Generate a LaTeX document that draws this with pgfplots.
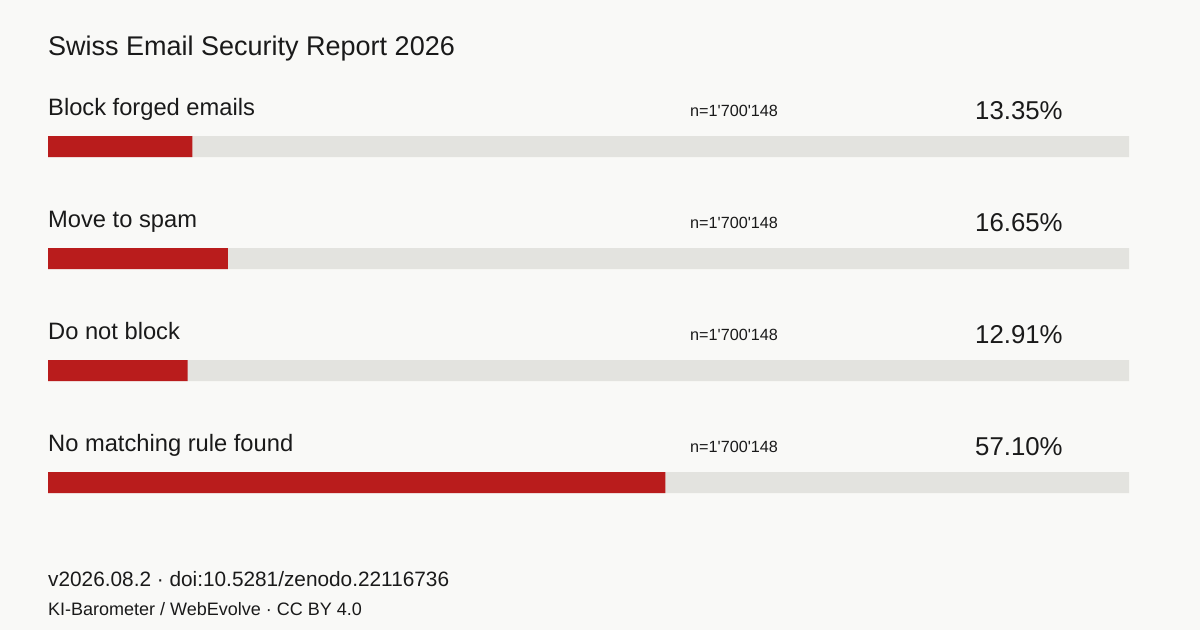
\documentclass[border=0pt]{standalone}
\usepackage{fontspec}
\setmainfont{Liberation Sans}
\usepackage{pgfplots}
\pgfplotsset{compat=1.18}
\definecolor{bg}{HTML}{F9F9F7}
\definecolor{track}{HTML}{E3E3DF}
\definecolor{barred}{HTML}{B91C1C}
\definecolor{ink}{HTML}{1A1A1A}
\newcommand{\lab}[1]{\node[anchor=base west, inner sep=0, text=ink, font=\fontsize{23.7}{28}\selectfont] at (axis cs:0,#1-0.281)}
\newcommand{\nn}[1]{\node[anchor=base west, inner sep=0, text=ink, font=\fontsize{16.2}{20}\selectfont] at (axis cs:59.39,#1-0.272) {n=1\textquotesingle700\textquotesingle148};}
\newcommand{\pc}[1]{\node[anchor=base west, inner sep=0, text=ink, font=\fontsize{25.8}{30}\selectfont] at (axis cs:85.75,#1-0.237)}
\begin{document}
\begin{tikzpicture}[x=1pt,y=1pt]
\fill[bg] (0,0) rectangle (1200,630);
\node[anchor=base west, inner sep=0, text=ink, font=\fontsize{27}{30}\selectfont] at (48,574.5) {Swiss Email Security Report 2026};
\begin{axis}[at={(48pt,91.5pt)}, anchor=south west, scale only axis,
  width=1081pt, height=448pt, xmin=0, xmax=100, ymin=-0.5, ymax=3.5,
  y dir=reverse, axis lines=none, xtick=\empty, ytick=\empty,
  xbar, bar width=21pt, bar shift=0pt, clip=false]
\addplot[fill=track, draw=none] coordinates {(100,0) (100,1) (100,2) (100,3)};
\addplot[fill=barred, draw=none] coordinates {(13.35,0) (16.65,1) (12.91,2) (57.10,3)};
\lab{0} {Block forged emails};
\lab{1} {Move to spam};
\lab{2} {Do not block};
\lab{3} {No matching rule found};
\nn{0}\nn{1}\nn{2}\nn{3}
\pc{0} {13.35\%};
\pc{1} {16.65\%};
\pc{2} {12.91\%};
\pc{3} {57.10\%};
\end{axis}
\node[anchor=base west, inner sep=0, text=ink, font=\fontsize{20.8}{24}\selectfont] at (48,44) {v2026.08.2 · doi:10.5281/zenodo.22116736};
\node[anchor=base west, inner sep=0, text=ink, font=\fontsize{18}{22}\selectfont] at (48,15) {KI-Barometer / WebEvolve · CC BY 4.0};
\end{tikzpicture}
\end{document}
